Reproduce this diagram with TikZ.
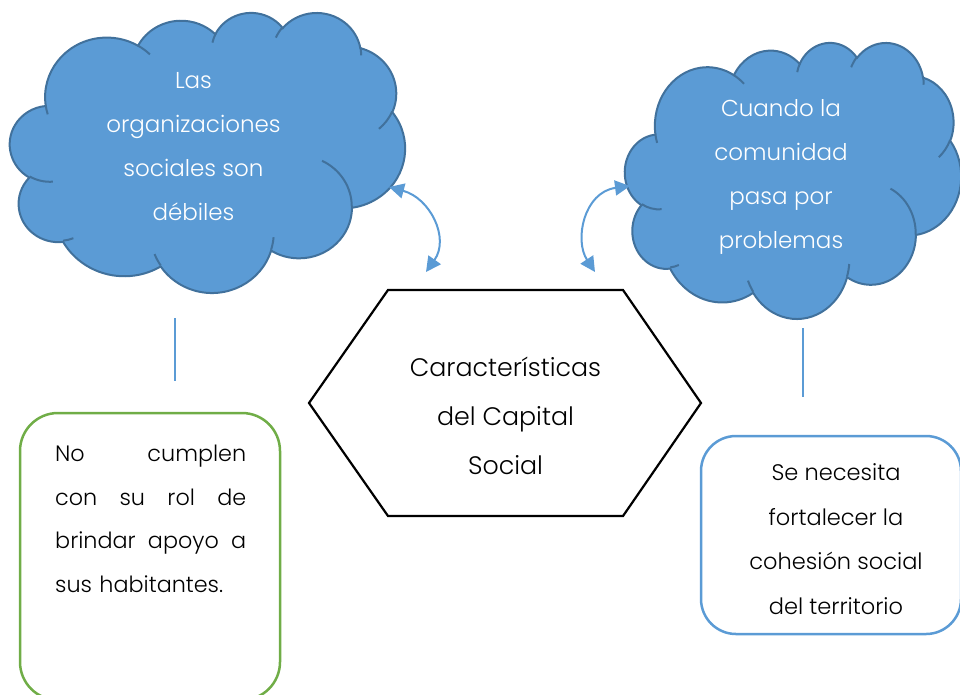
\documentclass[tikz,border=0pt]{standalone}
\usepackage{fontspec}
\setmainfont{Poppins Light}
\usetikzlibrary{arrows.meta}
\definecolor{cloudfill}{HTML}{5B9BD5}
\definecolor{cloudline}{HTML}{41719C}
\definecolor{boxgreen}{HTML}{70AD47}
\definecolor{boxblue}{HTML}{5B9BD5}
\tikzset{
  cloudshape/.style={draw=cloudline, line width=2pt, fill=cloudfill},
  cloudinner/.style={draw=cloudline, line width=2pt},
  cloudtext/.style={text=white, align=center, font=\fontsize{23}{44}\selectfont},
  hextext/.style={text=black, align=center, font=\fontsize{25.3}{49}\selectfont},
  hexline/.style={draw=black, line width=2.2pt, line join=miter},
  boxtext/.style={text=black, font=\fontsize{22.3}{43.5}\selectfont},
  boxtextb/.style={text=black, font=\fontsize{22.5}{44.7}\selectfont},
  linkline/.style={draw=boxblue, line width=1.4pt},
  dblarrow/.style={draw=boxblue, line width=2pt,
    {Triangle[length=15pt,width=15pt]}-{Triangle[length=15pt,width=15pt]}},
}
% OOXML arcTo: visual angles converted to parametric ones
\newcommand\oarc[4]{arc[start angle={atan2((#1)*sin(#3),(#2)*cos(#3))},
  delta angle={mod(atan2((#1)*sin((#3)+(#4)),(#2)*cos((#3)+(#4)))-atan2((#1)*sin(#3),(#2)*cos(#3))+720,360)},
  x radius=#1pt, y radius=#2pt]}
\newcommand\mycloud[4]{%
\begin{scope}[shift={(#1,#2)},xscale=#3/432,yscale=#4/432]
 \path[cloudshape] (39.00,143.70)
  \oarc{67.53}{91.90}{-190.4875}{123.7805}
  \oarc{53.33}{72.67}{-144.1024}{89.9452}
  \oarc{43.65}{59.45}{-145.8079}{99.7230}
  \oarc{48.57}{65.95}{-130.9861}{117.2417}
  \oarc{53.33}{72.73}{-78.7089}{109.0269}
  \oarc{67.75}{92.20}{-46.2673}{130.2690}
  \oarc{57.85}{78.67}{0.6250}{114.0333}
  \oarc{67.52}{92.15}{22.4516}{115.1726}
  \oarc{77.20}{105.43}{66.2426}{75.7110}
  \oarc{43.60}{59.18}{-274.9421}{146.7356}
  \oarc{43.45}{59.45}{-246.8285}{152.5189}
  -- cycle;
 \path[cloudinner]
  (46.93,261.77) \oarc{43.45}{59.45}{86.7420}{26.4295}
  (69.28,348.99) \oarc{43.60}{59.18}{73.6105}{11.4475}
  (164.78,390.90) \oarc{67.52}{92.15}{137.6242}{14.0811}
  (288.27,347.51) \oarc{67.52}{92.15}{6.4533}{15.9984}
  (341.29,229.54) \oarc{57.85}{78.67}{-70.2924}{70.9174}
  (417.98,153.54) \oarc{53.33}{72.73}{30.3180}{27.7515}
  (383.24,54.26) \oarc{48.57}{65.95}{-13.7443}{14.8589}
  (290.78,39.52) \oarc{48.57}{65.95}{-149.1815}{18.1954}
  (221.41,47.20) \oarc{43.65}{59.45}{-163.4943}{17.6864}
  (140.00,51.92) \oarc{67.53}{91.90}{-66.7070}{12.3194}
  (41.27,157.89) \oarc{67.53}{91.90}{157.6544}{11.8582};
\end{scope}}
\begin{document}
\begin{tikzpicture}[x=1pt,y=1pt,yscale=-1]
\useasboundingbox (0,0) rectangle (960,694);
% clouds
\mycloud{10}{12}{395}{280}
\mycloud{625}{42}{336}{276}
\node[cloudtext] (c1) at (193.5,147) {Las\\organizaciones\\sociales son\\débiles};
\node[cloudtext] (c2) at (781,176.5) {Cuando la\\comunidad\\pasa por\\problemas};
% hexagon
\coordinate (h1) at (388,290);
\coordinate (h2) at (623,290);
\coordinate (h3) at (701,403);
\coordinate (h4) at (623,516);
\coordinate (h5) at (388,516);
\coordinate (h6) at (309,403);
\draw[hexline] (h1) -- (h2) -- (h3) -- (h4) -- (h5) -- (h6) -- cycle;
\node[hextext] (hex) at (505.5,416) {Características\\del Capital\\Social};
% curved double arrows
\coordinate (a1s) at (389,187);
\coordinate (a1e) at (426,272);
\draw[dblarrow] (a1s) .. controls (430,198) and (450,238) .. (a1e);
\coordinate (a2s) at (630,186);
\coordinate (a2e) at (595,272);
\draw[dblarrow] (a2s) .. controls (584,192) and (574,240) .. (a2e);
% vertical links
\coordinate (l1a) at (175,318);
\coordinate (l1b) at (175,381);
\draw[linkline] (l1a) -- (l1b);
\coordinate (l2a) at (803,328);
\coordinate (l2b) at (803,397);
\draw[linkline] (l2a) -- (l2b);
% boxes
\draw[draw=boxgreen, line width=2.5pt, rounded corners=38pt] (20,413) rectangle (280,700);
\node[boxtext, anchor=west, text width=191pt, align=left, inner sep=0pt] (g) at (55,519)
  {No\hfill cumplen\\con\hfill su\hfill rol\hfill de\\brindar\hfill apoyo\hfill a\\sus habitantes.};
\draw[draw=boxblue, line width=2.5pt, rounded corners=35pt] (701,436) rectangle (961,634);
\node[boxtextb, align=center] (b) at (836,539) {Se necesita\\fortalecer la\\cohesión social\\del territorio};
\end{tikzpicture}
\end{document}
